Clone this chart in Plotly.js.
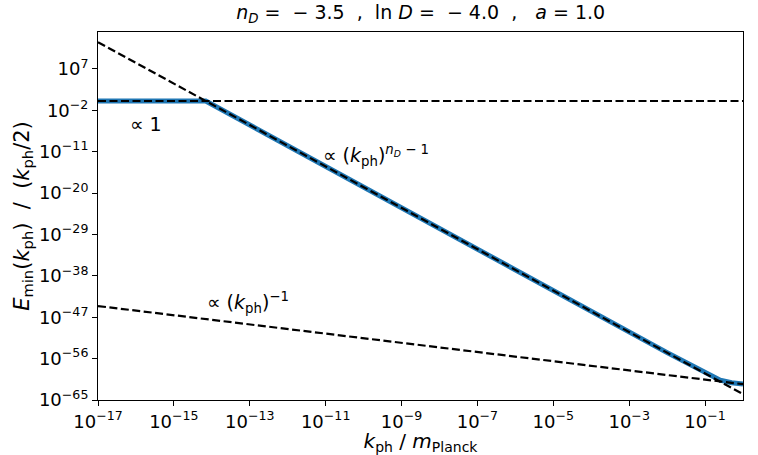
<!DOCTYPE html>
<html>
<head>
<meta charset="utf-8">
<script src="https://cdn.plot.ly/plotly-3.0.1.min.js"></script>
<style>
  html, body { margin: 0; padding: 0; background: #fff; }
  #chart { width: 758px; height: 455px; }
</style>
</head>
<body>
<div id="chart"></div>
<script>
// values, as log10 exponents
const curveLogK = [-17, -14.16, -2, -1, -0.6, -0.3, 0];
const curveLogE = [0, 0, -54.7, -59.2, -60.7, -61.24, -61.5];

const flatLogK = [-17, 0];
const flatLogE = [0, 0];

const steepLogK = [-17, 0];
const steepLogE = [12.78, -63.72];

const invLogK = [-17, 0];
const invLogE = [-44.57, -61.57];

const xTickExp = [-17, -15, -13, -11, -9, -7, -5, -3, -1];
const yTickExp = [-65, -56, -47, -38, -29, -20, -11, -2, 7];

const pow10 = arr => arr.map(e => Math.pow(10, e));
const tickText = arr => arr.map(e => '10<sup>' + String(e).replace('-', '\u2212') + '</sup>');

const font = 'DejaVu Sans, sans-serif';
const blue = '#1f77b4';
const sp = n => '\u00a0'.repeat(n);

const dashed = { color: 'black', width: 2.2, dash: '8px,3.5px' };

const traces = [
  { x: pow10(curveLogK), y: pow10(curveLogE), mode: 'lines', line: { color: blue, width: 5 }, type: 'scatter' },
  { x: pow10(flatLogK), y: pow10(flatLogE), mode: 'lines', line: dashed, type: 'scatter' },
  { x: pow10(steepLogK), y: pow10(steepLogE), mode: 'lines', line: dashed, type: 'scatter' },
  { x: pow10(invLogK), y: pow10(invLogE), mode: 'lines', line: dashed, type: 'scatter' }
];

const axisCommon = {
  type: 'log',
  showgrid: false,
  zeroline: false,
  showline: true,
  mirror: true,
  linecolor: 'black',
  linewidth: 1,
  ticks: 'outside',
  ticklen: 5,
  tickwidth: 1,
  tickcolor: 'black',
  tickfont: { family: font, size: 18, color: 'black' },
  fixedrange: true
};

const titleText = '<i>n<sub>D</sub></i>' + sp(1) + '=' + sp(2) + '\u2212' + sp(1) + '3.5' + sp(2) + ',' + sp(2) +
  'ln <i>D</i>' + sp(1) + '=' + sp(2) + '\u2212' + sp(1) + '4.0' + sp(2) + ',' + sp(3) +
  '<i>a</i>' + sp(1) + '=' + sp(1) + '1.0';

const layout = {
  width: 758,
  height: 455,
  margin: { l: 98, r: 15, t: 32, b: 55 },
  paper_bgcolor: 'white',
  plot_bgcolor: 'white',
  showlegend: false,
  font: { family: font, color: 'black' },
  title: {
    text: titleText,
    font: { family: font, size: 19, color: 'black' },
    x: 0.555, xanchor: 'center',
    y: 0.972, yanchor: 'middle', yref: 'container'
  },
  xaxis: Object.assign({}, axisCommon, {
    range: [-17, 0],
    tickvals: pow10(xTickExp),
    ticktext: tickText(xTickExp),
    title: { text: '<i>k</i><sub>ph</sub> / <i>m</i><sub>Planck</sub>', font: { family: font, size: 20 }, standoff: 2 }
  }),
  yaxis: Object.assign({}, axisCommon, {
    range: [-65, 15],
    tickvals: pow10(yTickExp),
    ticktext: tickText(yTickExp),
    title: {
      text: '<i>E</i><sub>min</sub>(<i>k</i><sub>ph</sub>)' + sp(2) + '/' + sp(2) + '(<i>k</i><sub>ph</sub>/2)',
      font: { family: font, size: 21 }, standoff: 3
    }
  }),
  annotations: [
    { x: -15.74, y: -4.9, text: '\u221d 1', showarrow: false, font: { family: font, size: 19 } },
    { x: -9.68, y: -11.9, text: '\u221d (<i>k</i><sub>ph</sub>)<sup><i>n<sub>D</sub></i> \u2212 1</sup>', showarrow: false, font: { family: font, size: 19 } },
    { x: -13.05, y: -43.9, text: '\u221d (<i>k</i><sub>ph</sub>)<sup>\u22121</sup>', showarrow: false, font: { family: font, size: 19 } }
  ]
};

Plotly.newPlot('chart', traces, layout, { displayModeBar: false, staticPlot: true });
</script>
</body>
</html>
